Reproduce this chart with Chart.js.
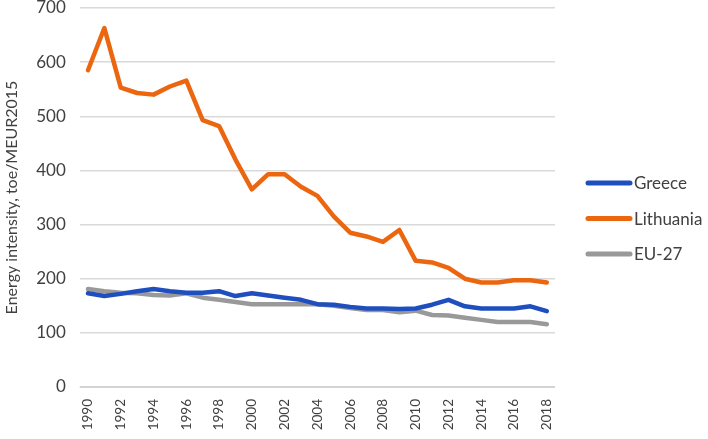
<!DOCTYPE html>
<html>
<head>
<meta charset="utf-8">
<script src="https://cdn.jsdelivr.net/npm/chart.js@4"></script>
<style>
  html, body { margin: 0; padding: 0; background: #fff; }
  #wrap { width: 708px; height: 439px; position: relative; }
</style>
</head>
<body>
<div id="wrap"><canvas id="chart"></canvas></div>
<script>
//years on the x axis
const years = ['1990','1991','1992','1993','1994','1995','1996','1997','1998','1999',
  '2000','2001','2002','2003','2004','2005','2006','2007','2008','2009',
  '2010','2011','2012','2013','2014','2015','2016','2017','2018'];
//energy intensity, toe/MEUR2015
const greece = [173,168,172,177,181,177,174,174,177,168,173,169,165,161,153,152,148,145,145,144,145,152,161,149,145,145,145,149,140];
const lithuania = [585,663,553,543,540,555,566,493,482,420,365,393,393,370,353,315,285,278,268,290,233,230,220,200,193,193,197,197,193];
const eu27 = [181,177,174,173,170,169,173,165,161,157,153,153,153,153,153,150,146,142,142,138,141,133,132,128,124,120,120,120,116];
const yTicks = [0,100,200,300,400,500,600,700];

const textColor = '#404040';
const gridColor = '#d9d9d9';
const fontFamily = 'Lato, "Open Sans", sans-serif';

//legend drawn on the right side, like the original
const sideLegend = {
  id: 'sideLegend',
  afterDraw(chart) {
    const ctx = chart.ctx;
    const area = chart.chartArea;
    const x0 = area.right + 33;
    chart.data.datasets.forEach((ds, i) => {
      const y = 183 + i * 35.5;
      ctx.save();
      ctx.strokeStyle = ds.borderColor;
      ctx.lineWidth = 5;
      ctx.lineCap = 'round';
      ctx.beginPath();
      ctx.moveTo(x0, y);
      ctx.lineTo(x0 + 42, y);
      ctx.stroke();
      ctx.fillStyle = textColor;
      ctx.font = '17px ' + fontFamily;
      ctx.textBaseline = 'middle';
      ctx.fillText(ds.label, x0 + 46, y + 1);
      ctx.restore();
    });
  }
};

//the grid line at 0, drawn last so nothing covers it
const zeroLine = {
  id: 'zeroLine',
  afterDraw(chart) {
    const ctx = chart.ctx;
    const area = chart.chartArea;
    const y = chart.scales.y.getPixelForValue(yTicks[0]) - 1;
    ctx.save();
    ctx.fillStyle = '#d3d3d3';
    ctx.fillRect(area.left, y, area.right - area.left, 2);
    ctx.restore();
  }
};

//no extra room for half tick labels at the top
const noTopPad = scale => { scale.paddingTop = 0; };

new Chart(document.getElementById('chart'), {
  type: 'line',
  data: {
    labels: years,
    datasets: [
      { label: 'Greece', data: greece, borderColor: '#1f4fbf' },
      { label: 'Lithuania', data: lithuania, borderColor: '#ec650f' },
      { label: 'EU-27', data: eu27, borderColor: '#999999' }
    ].map(ds => Object.assign(ds, {
      borderWidth: 4.5,
      pointRadius: 0,
      tension: 0,
      fill: false,
      borderJoinStyle: 'round',
      borderCapStyle: 'round'
    }))
  },
  options: {
    responsive: true,
    maintainAspectRatio: false,
    animation: false,
    layout: { padding: { top: 8, right: 153, left: 2, bottom: 0 } },
    plugins: {
      legend: { display: false },
      tooltip: { enabled: false }
    },
    scales: {
      x: {
        offset: true,
        afterFit: scale => { scale.paddingTop = 0; scale.height = 52; },
        grid: { display: false, drawTicks: false },
        border: { display: false },
        ticks: {
          autoSkip: false,
          minRotation: 90,
          maxRotation: 90,
          padding: 12,
          color: textColor,
          font: { family: fontFamily, size: 13.5 },
          callback: function(value, index) {
            return index % 2 === 0 ? this.getLabelForValue(value) : '';
          }
        }
      },
      y: {
        min: 0,
        max: 700,
        afterFit: noTopPad,
        afterBuildTicks: axis => { axis.ticks = yTicks.map(v => ({ value: v })); },
        grid: { color: gridColor, lineWidth: 1.5, drawTicks: false },
        border: { display: false },
        ticks: {
          padding: 14,
          color: textColor,
          font: { family: fontFamily, size: 17 }
        },
        title: {
          display: true,
          text: 'Energy intensity, toe/MEUR2015',
          color: textColor,
          font: { family: fontFamily, size: 16 },
          padding: { top: 0, bottom: 1 }
        }
      }
    }
  },
  plugins: [zeroLine, sideLegend]
});
</script>
</body>
</html>
